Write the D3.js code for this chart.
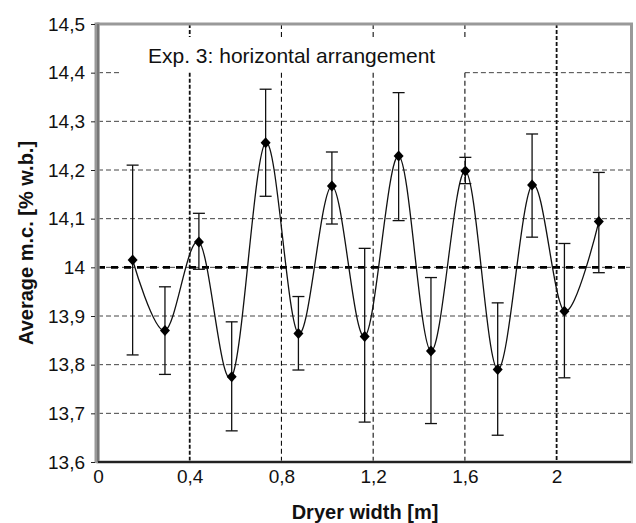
<!DOCTYPE html>
<html>
<head>
<meta charset="utf-8">
<script src="https://d3js.org/d3.v7.min.js"></script>
<style>
  body { margin: 0; background: #fff; }
  svg { display: block; font-family: "Liberation Sans", Arial, sans-serif; }
</style>
</head>
<body>
<svg id="chart"></svg>
<script>
// dryer width positions [m]
const widths = [0.151, 0.292, 0.44, 0.583, 0.731, 0.874, 1.02, 1.163, 1.311, 1.452, 1.602, 1.743, 1.893, 2.034, 2.184];
// average moisture content [% w.b.]
const avgMC = [14.015, 13.87, 14.052, 13.775, 14.256, 13.864, 14.167, 13.858, 14.229, 13.828, 14.198, 13.79, 14.169, 13.91, 14.094];
const errTop = [14.21, 13.96, 14.111, 13.888, 14.366, 13.94, 14.237, 14.039, 14.359, 13.979, 14.226, 13.927, 14.274, 14.049, 14.195];
const errBottom = [13.82, 13.78, 13.996, 13.664, 14.146, 13.789, 14.089, 13.682, 14.096, 13.679, 14.172, 13.655, 14.062, 13.773, 13.989];

const xTicks = [0, 0.4, 0.8, 1.2, 1.6, 2];
const yTicks = [13.6, 13.7, 13.8, 13.9, 14, 14.1, 14.2, 14.3, 14.4, 14.5];
const refLine = 14;
const title = "Exp. 3: horizontal arrangement";

const width = 636, height = 523;
const margin = {top: 24, right: 6, bottom: 61, left: 98};
const innerW = width - margin.left - margin.right;
const innerH = height - margin.top - margin.bottom;

const svg = d3.select('#chart')
    .attr('width', width)
    .attr('height', height);

const g = svg.append('g')
    .attr('transform', `translate(${margin.left}, ${margin.top})`);

const xscale = d3.scaleLinear().domain([0, 2.32]).range([0, innerW]);
const yscale = d3.scaleLinear().domain([13.6, 14.5]).range([innerH, 0]);

const comma = d => String(d).replace('.', ',');

// the title sits in a white box that hides the grid behind it
const box = {x0: 24, x1: xscale(1.6), y0: 13, y1: yscale(14.4)};

// horizontal grid, split where it runs under the title box
const hSegs = [];
yTicks.filter(d => d > 13.6 && d < 14.5).forEach(d => {
    const y = yscale(d);
    if (y >= box.y0 && y <= box.y1 + 0.5) {
        hSegs.push({y: y, a: 0, b: box.x0});
        hSegs.push({y: y, a: box.x1, b: innerW});
    } else {
        hSegs.push({y: y, a: 0, b: innerW});
    }
});
g.append('g').selectAll('line')
    .data(hSegs)
    .join('line')
    .attr('x1', d => d.a).attr('x2', d => d.b)
    .attr('y1', d => d.y).attr('y2', d => d.y)
    .attr('stroke', '#444')
    .attr('stroke-width', 1)
    .attr('stroke-dasharray', '5,3');

// vertical grid (0,4 and 2 drawn heavier), split by the title box
const vSegs = [];
xTicks.filter(d => d > 0).forEach(d => {
    const x = xscale(d);
    if (x <= box.x1 + 0.5) {
        vSegs.push({v: d, x: x, a: 0, b: box.y0});
        vSegs.push({v: d, x: x, a: box.y1, b: innerH});
    } else {
        vSegs.push({v: d, x: x, a: 0, b: innerH});
    }
});
g.append('g').selectAll('line')
    .data(vSegs)
    .join('line')
    .attr('x1', d => d.x).attr('x2', d => d.x)
    .attr('y1', d => d.a).attr('y2', d => d.b)
    .attr('stroke', '#111')
    .attr('stroke-width', d => (d.v === 0.4 || d.v === 2) ? 1.8 : 1.1)
    .attr('stroke-dasharray', d => (d.v === 0.4 || d.v === 2) ? '4,2' : '5,3');

// reference line at 14
g.append('line')
    .attr('x1', 0).attr('x2', innerW)
    .attr('y1', yscale(refLine)).attr('y2', yscale(refLine))
    .attr('stroke', '#000')
    .attr('stroke-width', 2.6)
    .attr('stroke-dasharray', '7,6');

g.append('text')
    .attr('x', 50).attr('y', 39)
    .attr('font-size', 21)
    .attr('fill', '#111')
    .text(title);

const data = widths.map((w, i) => ({x: w, y: avgMC[i], hi: errTop[i], lo: errBottom[i]}));

// smoothed line
const line = d3.line()
    .x(d => xscale(d.x))
    .y(d => yscale(d.y))
    .curve(d3.curveCatmullRom.alpha(0));

g.append('path')
    .datum(data)
    .attr('d', line)
    .attr('fill', 'none')
    .attr('stroke', '#111')
    .attr('stroke-width', 1.3);

// error bars
const eb = g.append('g').attr('stroke', '#111').attr('stroke-width', 1.3);
eb.selectAll('line.stem').data(data).join('line')
    .attr('class', 'stem')
    .attr('x1', d => xscale(d.x)).attr('x2', d => xscale(d.x))
    .attr('y1', d => yscale(d.hi)).attr('y2', d => yscale(d.lo));
eb.selectAll('line.capT').data(data).join('line')
    .attr('class', 'capT')
    .attr('x1', d => xscale(d.x) - 6).attr('x2', d => xscale(d.x) + 6)
    .attr('y1', d => yscale(d.hi)).attr('y2', d => yscale(d.hi));
eb.selectAll('line.capB').data(data).join('line')
    .attr('class', 'capB')
    .attr('x1', d => xscale(d.x) - 6).attr('x2', d => xscale(d.x) + 6)
    .attr('y1', d => yscale(d.lo)).attr('y2', d => yscale(d.lo));

// diamond markers
g.append('g').selectAll('path')
    .data(data)
    .join('path')
    .attr('transform', d => `translate(${xscale(d.x)}, ${yscale(d.y)})`)
    .attr('d', 'M0,-5.5L5,0L0,5.5L-5,0Z')
    .attr('fill', '#000');

// plot frame
g.append('rect')
    .attr('x', 0).attr('y', 0)
    .attr('width', innerW + 1.5).attr('height', innerH)
    .attr('fill', 'none')
    .attr('stroke', '#999')
    .attr('stroke-width', 3);
g.append('line')
    .attr('x1', -1).attr('x2', -1)
    .attr('y1', -1.5).attr('y2', innerH + 1)
    .attr('stroke', '#999')
    .attr('stroke-width', 5);
g.append('line')
    .attr('x1', 0).attr('x2', 0)
    .attr('y1', 0).attr('y2', innerH)
    .attr('stroke', '#555')
    .attr('stroke-width', 1);
g.append('line')
    .attr('x1', 0).attr('x2', innerW + 1)
    .attr('y1', innerH).attr('y2', innerH)
    .attr('stroke', '#222')
    .attr('stroke-width', 2);

// axes
const yaxis = d3.axisLeft(yscale)
    .tickValues(yTicks)
    .tickSize(4)
    .tickPadding(6)
    .tickFormat(comma);
g.append('g')
    .attr('transform', 'translate(-3,0)')
    .call(yaxis)
    .call(s => s.select('.domain').remove())
    .call(s => s.selectAll('text').attr('font-size', 19).attr('fill', '#111').attr('font-family', null))
    .call(s => s.selectAll('line').attr('stroke', '#222'));

const xaxis = d3.axisBottom(xscale)
    .tickValues(xTicks)
    .tickSize(0)
    .tickPadding(8)
    .tickFormat(comma);
g.append('g')
    .attr('transform', `translate(0, ${innerH})`)
    .call(xaxis)
    .call(s => s.select('.domain').remove())
    .call(s => s.selectAll('text').attr('font-size', 19).attr('fill', '#111').attr('font-family', null));

// axis titles
svg.append('text')
    .attr('x', 365).attr('y', 519)
    .attr('text-anchor', 'middle')
    .attr('font-size', 20)
    .attr('font-weight', 'bold')
    .attr('fill', '#111')
    .text('Dryer width [m]');

svg.append('text')
    .attr('transform', 'translate(33, 243) rotate(-90)')
    .attr('text-anchor', 'middle')
    .attr('font-size', 20)
    .attr('font-weight', 'bold')
    .attr('fill', '#111')
    .text('Average m.c. [% w.b.]');
</script>
</body>
</html>
